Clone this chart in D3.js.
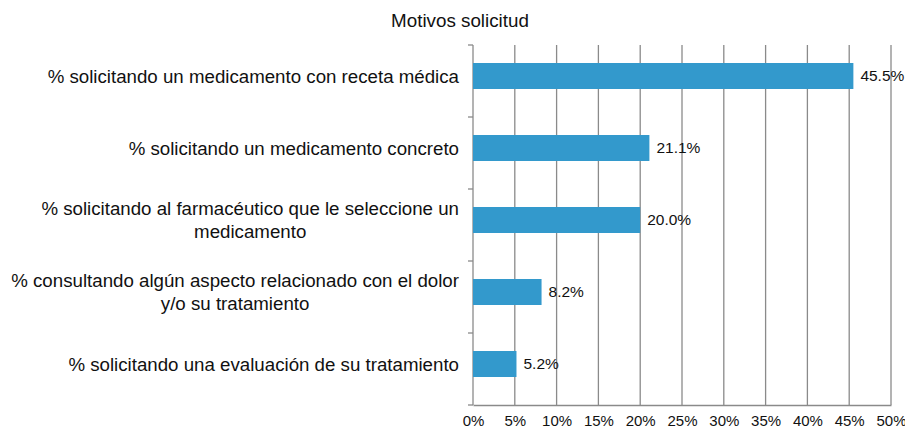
<!DOCTYPE html>
<html><head><meta charset="utf-8">
<script src="https://cdn.jsdelivr.net/npm/d3@7/dist/d3.min.js"></script>
<style>body{margin:0;background:#fff}svg{display:block;font-family:"Liberation Sans",Arial,Helvetica,sans-serif}</style>
</head><body><svg id="c" width="905" height="429"></svg>
<script>
const title = "Motivos solicitud";
const categories = [
  ["% solicitando un medicamento con receta médica"],
  ["% solicitando un medicamento concreto"],
  ["% solicitando al farmacéutico que le seleccione un", "medicamento"],
  ["% consultando algún aspecto relacionado con el dolor", "y/o su tratamiento"],
  ["% solicitando una evaluación de su tratamiento"]
];
const values = [45.5, 21.1, 20.0, 8.2, 5.2];
const tickValues = [0,5,10,15,20,25,30,35,40,45,50];

(function(){
const svg = d3.select("#c");
const mLeft = 473, mRight = 891, mTop = 45, mBottom = 405;
const x = d3.scaleLinear().domain([0,50]).range([mLeft,mRight]);
const y = d3.scaleBand().domain(d3.range(categories.length)).range([mTop,mBottom]);
const grid = "#8a8a8a";

svg.append("text").attr("x",460).attr("y",27).attr("text-anchor","middle")
  .attr("font-size",18.8).attr("fill","#111").text(title);

svg.append("g").selectAll("line").data(tickValues).join("line")
  .attr("x1",d=>x(d)).attr("x2",d=>x(d)).attr("y1",mTop).attr("y2",mBottom)
  .attr("stroke",grid).attr("stroke-width",1.3);

const bounds = d3.range(categories.length+1).map(i=> i<categories.length ? y(i) : mBottom);
svg.append("g").selectAll("line").data(bounds).join("line")
  .attr("x1",mLeft-5).attr("x2",mLeft).attr("y1",d=>d).attr("y2",d=>d)
  .attr("stroke",grid).attr("stroke-width",1.3);

const xAxis = d3.axisBottom(x).tickValues(tickValues).tickFormat(d=>d+"%").tickSize(0).tickPadding(10);
const gx = svg.append("g").attr("transform",`translate(0,${mBottom})`).call(xAxis);
gx.select(".domain").attr("stroke",grid).attr("stroke-width",1.3);
gx.selectAll("text").attr("font-size",15).attr("fill","#111").attr("font-family","inherit");

const bh = 26;
svg.append("g").selectAll("rect").data(values).join("rect")
  .attr("x",x(0)).attr("width",d=>x(d)-x(0))
  .attr("y",(d,i)=>y(i)+y.bandwidth()/2-bh/2-5).attr("height",bh)
  .attr("fill","#3399cc");

svg.append("g").selectAll("text").data(values).join("text")
  .attr("x",d=>x(d)+7).attr("y",(d,i)=>y(i)+y.bandwidth()/2-5)
  .attr("dy","0.35em").attr("font-size",15.5).attr("fill","#111")
  .text(d=>d.toFixed(1)+"%");

categories.forEach((lines,i)=>{
  const cy = y(i)+y.bandwidth()/2-5;
  const g = svg.append("g");
  const lh = 22.5;
  const ts = lines.map((l,j)=> g.append("text").attr("font-size",18.7).attr("fill","#111")
      .attr("text-anchor","middle")
      .attr("y", cy + (j-(lines.length-1)/2)*lh).attr("dy","0.35em").text(l));
  const w = d3.max(ts, t=>t.node().getComputedTextLength());
  const cx = 459 - w/2;
  ts.forEach(t=>t.attr("x",cx));
});
})();
</script></body></html>
